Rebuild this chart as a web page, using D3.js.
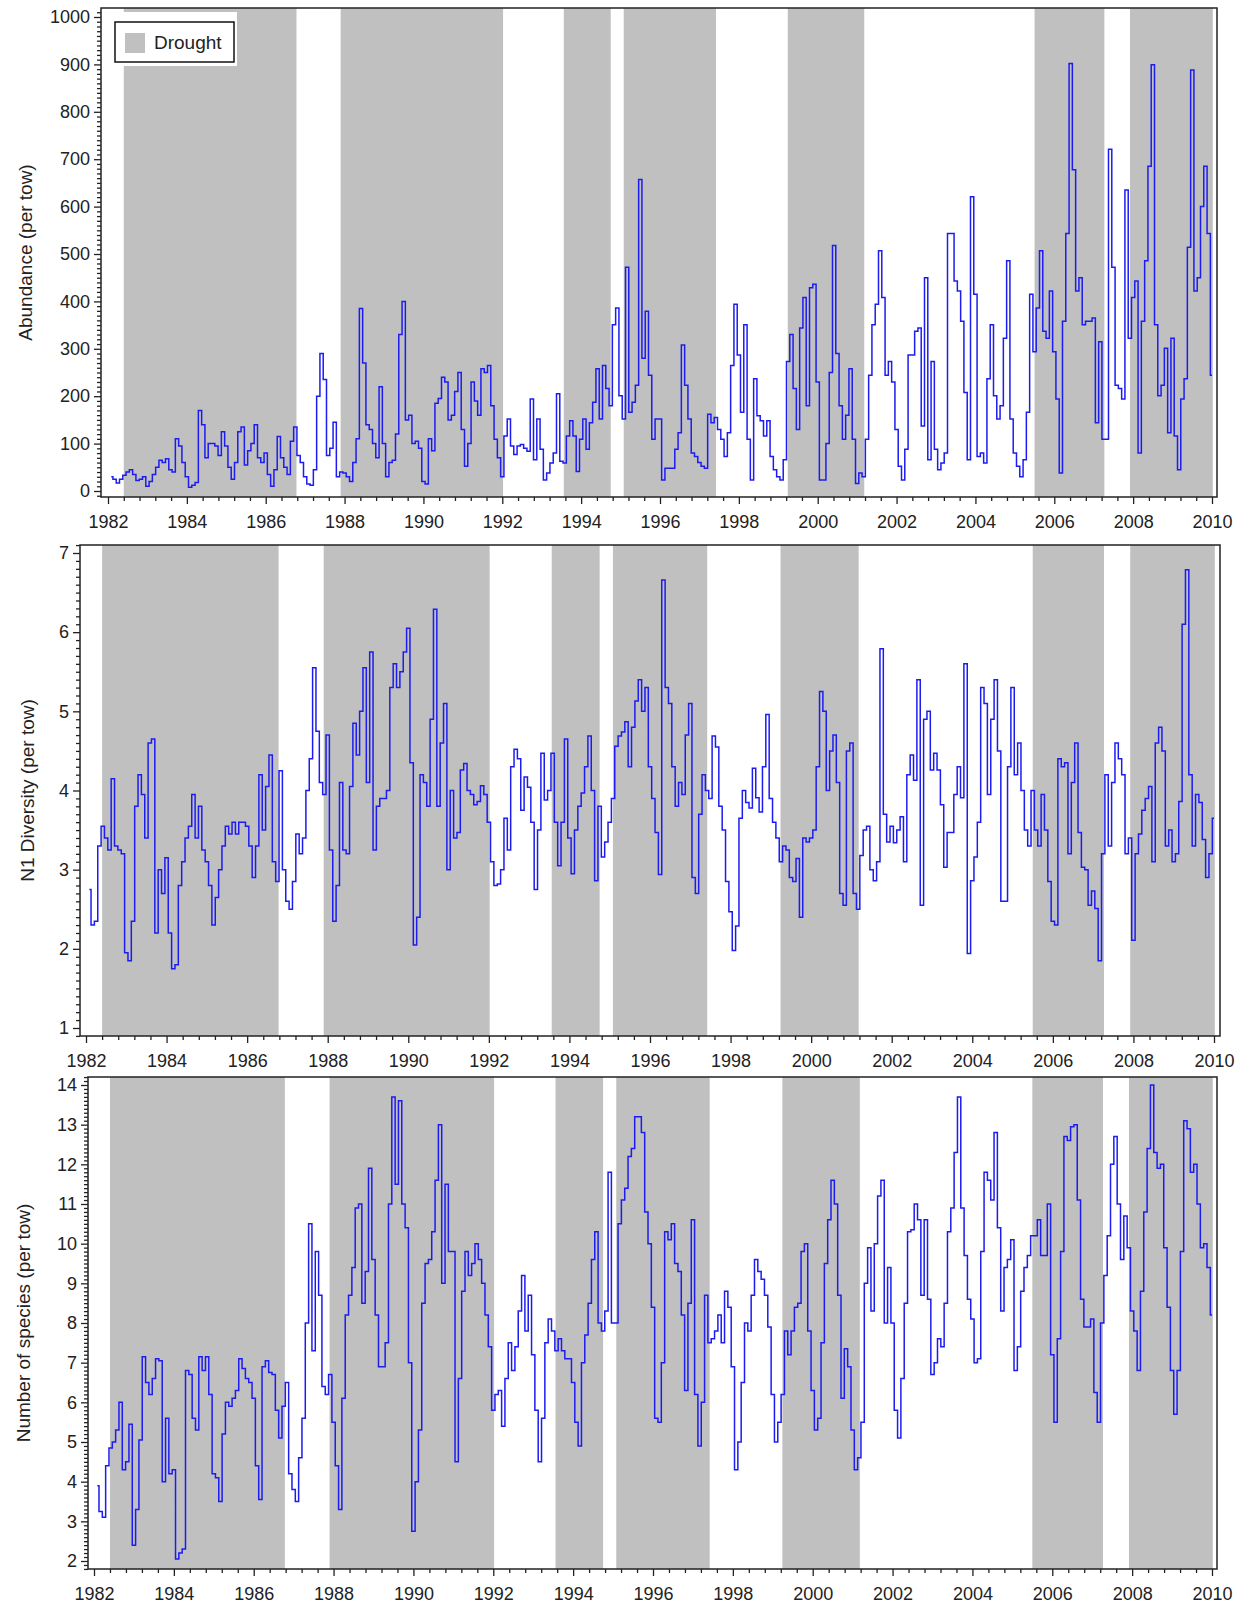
<!DOCTYPE html>
<html>
<head>
<meta charset="utf-8">
<script src="https://cdn.jsdelivr.net/npm/d3@7"></script>
<style>
  body { margin: 0; background: #fff; }
  text { font-family: "Liberation Sans", Arial, sans-serif; fill: #222; }
</style>
</head>
<body>
<div id="chart"></div>
<script>

/// Data: monthly values, first value = Feb 1982, 12 per row

const abundance = [
  30,25,17,25,33,40,45,35,22,25,30,10,
  20,35,50,65,60,68,45,40,110,95,60,30,
  8,12,18,170,140,70,100,100,95,75,125,95,
  50,25,60,125,135,55,85,100,140,70,60,80,
  35,10,45,115,70,50,35,105,135,75,60,30,
  15,12,45,200,290,235,75,90,145,30,40,38,
  30,20,60,110,385,270,140,130,100,70,220,100,
  30,60,65,120,330,400,150,160,100,105,90,20,
  15,110,85,185,195,240,230,150,160,210,250,130,
  52,100,230,190,160,258,250,265,180,109,70,30,
  116,152,95,77,95,98,90,84,194,66,152,88,
  23,38,59,80,205,63,59,116,148,116,41,109,
  152,88,144,187,258,152,265,216,180,351,386,201,
  152,472,166,187,223,657,280,379,244,109,152,152,
  23,48,48,48,88,123,308,223,152,80,73,60,
  52,48,162,144,155,130,109,73,123,265,394,287,
  166,351,109,23,237,159,148,116,148,73,45,30,
  23,66,273,330,216,130,344,408,180,429,436,230,
  23,23,100,250,518,290,180,109,160,258,109,16,
  38,30,109,244,351,394,507,408,244,273,230,130,
  52,23,88,287,287,337,344,137,450,66,273,88,
  45,59,80,543,543,443,422,358,208,66,621,415,
  73,80,59,237,351,201,152,180,322,486,152,80,
  52,30,66,166,415,294,386,507,337,322,422,294,
  194,38,358,543,902,678,422,450,351,358,358,365,
  144,315,109,109,721,472,223,216,194,635,322,408,
  443,80,358,486,685,899,351,201,223,301,123,322,
  116,45,194,237,514,888,422,450,600,685,543,244
];

const n1Diversity = [
  2.75,2.3,2.35,3.3,3.55,3.4,3.25,4.15,3.3,3.25,3.2,1.95,
  1.85,2.35,3.8,4.2,3.95,3.4,4.6,4.65,2.2,3.0,2.7,3.15,
  2.2,1.75,1.8,2.8,3.1,3.4,3.55,3.95,3.4,3.8,3.25,3.1,
  2.8,2.3,2.65,3.0,3.3,3.55,3.45,3.6,3.45,3.6,3.6,3.55,
  3.3,2.9,3.3,4.2,3.5,4.05,4.45,3.1,2.85,4.25,3.0,2.6,
  2.5,2.85,3.45,3.2,3.4,4.0,4.4,5.55,4.75,4.1,3.95,4.7,
  3.25,2.35,2.8,4.1,3.25,3.2,4.05,4.85,4.45,5.0,5.55,4.1,
  5.75,3.25,3.8,3.9,3.9,4.0,5.3,5.6,5.3,5.5,5.75,6.05,
  4.35,2.05,2.4,4.2,4.1,3.8,4.9,6.29,3.8,4.6,5.1,3.0,
  4.0,3.4,3.47,4.26,4.34,4.0,3.95,3.82,3.86,4.06,3.95,3.6,
  3.1,2.8,2.82,3.0,3.65,3.25,4.3,4.52,4.4,3.75,4.17,4.04,
  3.6,2.75,3.5,4.47,3.88,4.0,4.47,3.6,3.05,3.6,4.65,3.4,
  2.95,3.5,3.8,3.97,4.3,4.69,4.0,2.86,3.8,3.16,3.35,3.6,
  3.9,4.56,4.69,4.74,4.87,4.3,4.8,5.13,5.4,5.0,5.3,4.3,
  3.9,3.47,2.94,6.66,5.3,5.1,4.3,3.8,4.1,3.95,4.7,5.1,
  2.9,2.7,3.7,4.2,4.0,3.9,4.69,4.55,3.8,3.5,2.85,2.47,
  1.98,2.29,3.65,4.0,3.85,3.78,4.28,3.91,3.73,4.3,4.96,3.9,
  3.6,3.4,3.1,3.3,3.25,2.9,2.85,3.14,2.4,3.4,3.35,3.4,
  3.5,4.3,5.25,5.0,4.0,4.5,4.7,4.1,2.7,2.55,4.5,4.6,
  2.7,2.5,3.18,3.5,3.55,3.0,2.86,3.1,5.79,3.7,3.35,3.55,
  3.34,3.5,3.67,3.1,4.2,4.45,4.13,5.4,2.55,4.9,5.0,4.26,
  4.47,4.26,3.82,3.03,3.47,3.47,3.95,4.3,3.91,5.6,1.94,2.86,
  3.16,3.6,5.3,5.1,3.95,4.9,5.4,4.5,2.6,2.6,4.3,5.3,
  4.2,4.6,4.0,3.5,3.3,4.0,3.5,3.3,3.95,3.5,2.85,2.35,
  2.3,4.4,4.3,4.35,3.2,4.1,4.6,3.47,3.03,3.0,2.55,2.73,
  2.51,1.85,3.2,4.2,3.3,4.1,4.6,4.4,4.2,3.2,3.4,2.11,
  3.2,3.45,3.75,3.9,4.05,3.1,4.6,4.8,4.5,3.3,3.5,3.1,
  3.2,3.86,6.1,6.79,4.2,3.3,3.95,3.85,3.38,2.9,3.2,3.65
];

const nSpecies = [
  3.9,3.25,3.1,4.4,4.85,5.0,5.3,6.0,4.3,4.5,5.45,2.4,
  3.3,5.05,7.15,6.5,6.2,6.6,7.1,7.05,4.0,5.6,4.2,4.3,
  2.05,2.2,2.3,6.8,6.7,5.6,5.3,7.15,6.8,7.15,6.2,4.2,
  4.1,3.5,5.2,6.0,5.9,6.1,6.3,7.1,6.85,6.6,6.5,6.1,
  4.4,3.55,6.9,7.05,6.75,6.7,5.8,5.1,5.9,6.5,4.2,3.8,
  3.5,4.6,5.6,8.0,10.5,7.3,9.8,8.7,6.4,6.2,6.7,5.5,
  4.4,3.3,6.1,8.2,8.7,9.4,10.9,11.0,8.5,9.3,11.9,9.6,
  8.2,6.9,6.9,7.5,11.0,13.7,11.5,13.6,11.0,10.4,7.0,2.75,
  4.0,5.3,8.5,9.5,9.6,10.3,11.6,13.0,9.0,11.5,9.8,9.8,
  4.5,6.6,8.8,9.8,9.2,9.5,10.0,9.6,9.0,8.2,7.4,5.8,
  6.2,6.3,5.4,6.6,7.5,6.8,7.4,8.3,9.2,7.8,8.7,7.2,
  5.8,4.5,5.6,7.5,8.1,7.8,7.3,7.6,7.3,7.1,7.1,6.5,
  5.5,4.9,7.0,7.7,8.5,9.6,10.3,8.0,7.8,8.3,11.8,8.0,
  8.0,10.5,11.1,11.4,12.2,12.4,13.2,13.2,12.8,10.8,10.0,8.4,
  5.6,5.5,7.0,10.3,10.1,10.5,9.5,9.3,8.2,6.3,8.5,10.6,
  6.2,4.9,6.0,8.7,7.5,7.6,7.8,8.2,7.5,8.8,8.4,6.9,
  4.3,5.0,6.5,8.0,7.8,8.7,9.6,9.3,9.1,8.7,7.9,6.2,
  5.0,5.5,6.2,7.8,7.2,7.8,8.4,8.5,9.8,10.0,7.8,6.3,
  5.3,5.6,7.5,9.5,10.6,11.6,11.0,8.7,6.1,7.35,6.9,5.3,
  4.3,4.6,5.5,9.0,9.9,8.3,10.0,11.2,11.6,8.0,9.4,8.0,
  5.8,5.1,6.6,8.5,10.3,10.35,11.0,10.6,8.7,10.6,8.6,6.7,
  7.0,7.6,7.4,8.5,10.3,10.9,12.3,13.7,10.9,9.7,8.6,8.1,
  7.0,7.1,9.8,11.8,11.6,11.1,12.8,10.4,8.3,9.4,9.6,10.1,
  6.8,7.4,8.8,9.4,9.7,10.2,10.2,10.6,9.7,9.7,11.0,7.2,
  5.5,7.6,9.8,12.7,12.6,12.95,13.0,11.1,8.6,7.9,7.9,8.1,
  6.25,5.5,8.0,9.2,10.2,12.0,12.7,11.0,9.6,10.7,9.9,8.3,
  7.8,6.8,8.8,10.8,12.4,14.0,12.3,11.9,12.0,9.9,8.4,6.8,
  5.7,6.8,9.8,13.1,12.9,11.8,12.0,11.0,9.9,10.0,9.4,8.2
];

// drought periods (decimal years)
const droughts = [
  [1982.4, 1986.78], [1987.9, 1992.02], [1993.56, 1994.75], [1995.08, 1997.42],
  [1999.24, 2001.18], [2005.5, 2007.27], [2007.92, 2010.02]
];

// tick labels
const yearTicks = [1982,1984,1986,1988,1990,1992,1994,1996,1998,2000,2002,2004,2006,2008,2010];
const abundanceTicks = [0,100,200,300,400,500,600,700,800,900,1000];
const n1Ticks = [1,2,3,4,5,6,7];
const speciesTicks = [2,3,4,5,6,7,8,9,10,11,12,13,14];

const startYear = 1982;

///////////////////////////////////////////////////////////////////////////////

var width = 1242;
var height = 1606;

var svg = d3.select("#chart").append("svg")
  .attr("width", width)
  .attr("height", height);

// layout of the three panels (pixels)
const panels = [
  { values: abundance, ticks: abundanceTicks, minor: 10, title: "Abundance (per tow)",
    left: 101, right: 1217, top: 8, bottom: 497, x0: 108, x1: 1212, yLo: 491, yHi: 17, titleX: 25, legend: true },
  { values: n1Diversity, ticks: n1Ticks, minor: 0.1, title: "N1 Diversity (per tow)",
    left: 80, right: 1220, top: 545, bottom: 1036, x0: 86, x1: 1214, yLo: 1028, yHi: 553, titleX: 27, legend: false },
  { values: nSpecies, ticks: speciesTicks, minor: 0.1, title: "Number of species (per tow)",
    left: 88, right: 1217, top: 1077, bottom: 1569, x0: 94, x1: 1212, yLo: 1561, yHi: 1085, titleX: 23, legend: false }
];

const lineColour = "#1c1cf0";
const droughtColour = "#c0c0c0";

function minorValues(lo, hi, step, majors) {
  let k0 = Math.ceil(lo / step - 1e-6), k1 = Math.floor(hi / step + 1e-6);
  return d3.range(k0, k1 + 1).map(k => +(k * step).toFixed(4))
    .filter(v => !majors.some(m => Math.abs(m - v) < step / 2));
}

panels.forEach((p, pi) => {

  let x = d3.scaleLinear()
    .domain([yearTicks[0], yearTicks[yearTicks.length - 1]])
    .range([p.x0, p.x1]);

  let y = d3.scaleLinear()
    .domain([p.ticks[0], p.ticks[p.ticks.length - 1]])
    .range([p.yLo, p.yHi]);

  let g = svg.append("g").attr("class", "panel");

  g.append("clipPath")
    .attr("id", "clip" + pi)
    .append("rect")
    .attr("x", p.left).attr("y", p.top)
    .attr("width", p.right - p.left).attr("height", p.bottom - p.top);

  // drought shading
  g.selectAll("rect.drought")
    .data(droughts)
    .enter()
    .append("rect")
    .attr("class", "drought")
    .attr("clip-path", `url(#clip${pi})`)
    .attr("x", d => x(d[0]))
    .attr("width", d => x(d[1]) - x(d[0]))
    .attr("y", p.top)
    .attr("height", p.bottom - p.top)
    .style("fill", droughtColour);

  // the series
  let series = p.values.map((v, i) => ({ t: startYear + (i + 1) / 12, v: v }));

  let line = d3.line()
    .x(d => x(d.t))
    .y(d => y(d.v))
    .curve(d3.curveStep);

  g.append("path")
    .datum(series)
    .attr("clip-path", `url(#clip${pi})`)
    .attr("d", line)
    .style("fill", "none")
    .style("stroke", lineColour)
    .style("stroke-width", 1.5)
    .style("stroke-linejoin", "miter");

  // axes
  let xMinor = minorValues(x.invert(p.left), x.invert(p.right), 0.4, yearTicks)
    .filter(v => Math.abs((v - 1982) / 0.4 - Math.round((v - 1982) / 0.4)) < 1e-6);

  let xAxis = d3.axisBottom(x).tickValues(yearTicks).tickFormat(d3.format("d"))
    .tickSize(7).tickPadding(11);
  let xAxisMinor = d3.axisBottom(x).tickValues(xMinor).tickFormat("").tickSize(4);

  let yMinor = minorValues(y.invert(p.bottom), y.invert(p.top), p.minor, p.ticks);

  let yAxis = d3.axisLeft(y).tickValues(p.ticks).tickFormat(d3.format("d"))
    .tickSize(7).tickPadding(4);
  let yAxisMinor = d3.axisLeft(y).tickValues(yMinor).tickFormat("").tickSize(4);

  [xAxis, xAxisMinor].forEach(a => {
    g.append("g")
      .attr("class", "axis")
      .attr("transform", `translate(0, ${p.bottom})`)
      .call(a);
  });

  [yAxis, yAxisMinor].forEach(a => {
    g.append("g")
      .attr("class", "axis")
      .attr("transform", `translate(${p.left}, 0)`)
      .call(a);
  });

  g.selectAll(".axis .domain").remove();
  g.selectAll(".axis line").style("stroke", "#222").style("stroke-width", 1.3);
  g.selectAll(".axis text")
    .style("font-size", "18px")
    .style("font-family", '"Liberation Sans", Arial, sans-serif')
    .style("fill", "#222");

  // frame
  g.append("rect")
    .attr("x", p.left).attr("y", p.top)
    .attr("width", p.right - p.left).attr("height", p.bottom - p.top)
    .style("fill", "none")
    .style("stroke", "#222")
    .style("stroke-width", 1.5);

  // y title
  g.append("text")
    .attr("transform", `translate(${p.titleX}, ${(p.top + p.bottom) / 2}) rotate(-90)`)
    .attr("dy", "0.35em")
    .style("text-anchor", "middle")
    .style("font-size", "19px")
    .text(p.title);

  // legend
  if (p.legend) {
    let lg = g.append("g").attr("class", "legend");
    lg.append("rect")
      .attr("x", p.left + 6).attr("y", p.top + 4)
      .attr("width", 130).attr("height", 54)
      .style("fill", "#fff");
    lg.append("rect")
      .attr("x", 115).attr("y", 22)
      .attr("width", 119).attr("height", 40)
      .style("fill", "#fff")
      .style("stroke", "#111")
      .style("stroke-width", 1.5);
    lg.append("rect")
      .attr("x", 125).attr("y", 33)
      .attr("width", 20).attr("height", 20)
      .style("fill", droughtColour);
    lg.append("text")
      .attr("x", 154).attr("y", 49)
      .style("font-size", "19px")
      .text("Drought");
  }
});

</script>
</body>
</html>
